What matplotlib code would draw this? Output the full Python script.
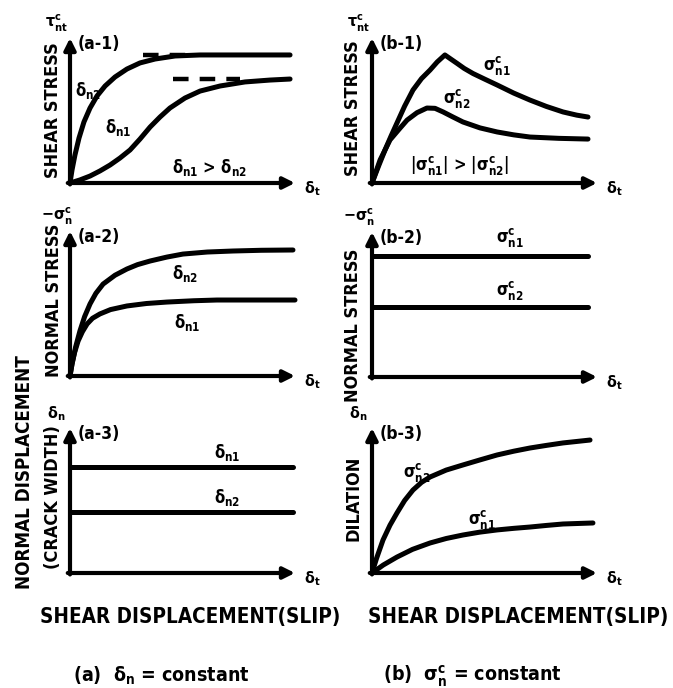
import matplotlib
matplotlib.use('Agg')
import matplotlib.pyplot as plt

W, H = 673, 688
INK = 'black'

plt.rcParams['font.family'] = ['DejaVu Sans']
plt.rcParams['font.weight'] = 'bold'
plt.rcParams['font.stretch'] = 'condensed'
plt.rcParams['mathtext.fontset'] = 'custom'
plt.rcParams['mathtext.rm'] = 'DejaVu Sans:weight=bold:stretch=condensed'
plt.rcParams['mathtext.it'] = 'DejaVu Sans:weight=bold:stretch=condensed'
plt.rcParams['mathtext.bf'] = 'DejaVu Sans:weight=bold:stretch=condensed'
plt.rcParams['mathtext.default'] = 'bf'

# ---- (a-1) shear stress vs slip, crack width held constant
a1_slip_dn2 = [0, 0.009, 0.022, 0.04, 0.062, 0.089, 0.12, 0.156, 0.2, 0.253,
               0.311, 0.378, 0.467, 0.578, 0.756, 0.978]
a1_tau_dn2 = [0, 0.09, 0.193, 0.31, 0.421, 0.517, 0.6, 0.669, 0.731, 0.786,
              0.828, 0.855, 0.876, 0.883, 0.883, 0.883]
a1_slip_dn1 = [0, 0.044, 0.089, 0.133, 0.178, 0.222, 0.267, 0.311, 0.356, 0.4,
               0.444, 0.511, 0.578, 0.667, 0.778, 0.889, 0.978]
a1_tau_dn1 = [0, 0.021, 0.048, 0.083, 0.124, 0.172, 0.228, 0.303, 0.386, 0.455,
              0.517, 0.586, 0.634, 0.669, 0.697, 0.710, 0.717]
a1_limit_dn2 = 0.883
a1_limit_dn1 = 0.717

# ---- (b-1) shear stress vs slip, normal stress held constant
b1_slip_s1 = [0, 0.03, 0.058, 0.085, 0.111, 0.145, 0.182, 0.22, 0.258, 0.29, 0.324,
              0.35, 0.378, 0.41, 0.449, 0.5, 0.556, 0.63, 0.702, 0.775, 0.849, 0.91, 0.96]
b1_tau_s1 = [0, 0.12, 0.228, 0.325, 0.414, 0.53, 0.641, 0.72, 0.779, 0.835, 0.883,
             0.855, 0.825, 0.79, 0.755, 0.717, 0.676, 0.62, 0.572, 0.528, 0.490, 0.468, 0.455]
b1_slip_s2 = [0, 0.036, 0.08, 0.12, 0.156, 0.2, 0.244, 0.28, 0.316, 0.36, 0.404,
              0.48, 0.556, 0.63, 0.702, 0.83, 0.96]
b1_tau_s2 = [0, 0.159, 0.297, 0.37, 0.434, 0.485, 0.517, 0.515, 0.490, 0.455, 0.421,
             0.38, 0.352, 0.332, 0.317, 0.308, 0.303]

# ---- (a-2) normal stress vs slip
a2_slip_dn2 = [0, 0.009, 0.025, 0.044, 0.065, 0.089, 0.115, 0.147, 0.2, 0.253,
               0.3, 0.356, 0.43, 0.502, 0.61, 0.724, 0.85, 0.991]
a2_sig_dn2 = [0, 0.083, 0.2, 0.31, 0.41, 0.497, 0.57, 0.634, 0.695, 0.738,
              0.768, 0.793, 0.82, 0.841, 0.855, 0.862, 0.867, 0.869]
a2_slip_dn1 = [0, 0.009, 0.02, 0.036, 0.055, 0.076, 0.1, 0.133, 0.18, 0.253,
               0.34, 0.431, 0.55, 0.653, 0.8, 1.0]
a2_sig_dn1 = [0, 0.083, 0.16, 0.241, 0.305, 0.359, 0.398, 0.428, 0.458, 0.483,
              0.5, 0.51, 0.519, 0.524, 0.524, 0.524]

# ---- (b-2) normal stress levels
b2_slip = [0, 0.96]
b2_sig_s1 = 0.834
b2_sig_s2 = 0.483

# ---- (a-3) crack width levels
a3_slip = [0, 0.99]
a3_dn1 = 0.731
a3_dn2 = 0.42

# ---- (b-3) dilation vs slip
b3_slip_s2 = [0, 0.02, 0.049, 0.08, 0.111, 0.145, 0.182, 0.22, 0.258, 0.33, 0.404,
              0.48, 0.556, 0.63, 0.702, 0.775, 0.849, 0.969]
b3_dil_s2 = [0, 0.1, 0.228, 0.33, 0.414, 0.5, 0.572, 0.625, 0.662, 0.71, 0.745,
             0.78, 0.814, 0.84, 0.862, 0.88, 0.897, 0.917]
b3_slip_s1 = [0, 0.05, 0.111, 0.18, 0.258, 0.33, 0.404, 0.48, 0.556, 0.63, 0.702,
              0.775, 0.849, 0.982]
b3_dil_s1 = [0, 0.055, 0.11, 0.163, 0.207, 0.238, 0.262, 0.282, 0.297, 0.308, 0.317,
             0.328, 0.338, 0.345]

fig = plt.figure(figsize=(W / 100, H / 100), dpi=100)
fig.patch.set_facecolor('white')

CURVE = dict(color=INK, lw=3.6, solid_capstyle='round', solid_joinstyle='round', clip_on=False)
LBL = dict(fontsize=12, ha='center', va='center')


def panel(left_px, origin_px, tag, ylab):
    ax = fig.add_axes([left_px / W, 1 - origin_px / H, 225 / W, 145 / H])
    ax.set_xlim(0, 1)
    ax.set_ylim(0, 1)
    ax.axis('off')
    arrow = dict(arrowstyle='-|>', lw=3, color=INK, mutation_scale=17,
                 shrinkA=0, shrinkB=0)
    ax.annotate('', xy=(1.0, 0), xytext=(-0.01, 0), arrowprops=arrow, annotation_clip=False)
    ax.annotate('', xy=(0, 1.0), xytext=(0, -0.01), arrowprops=arrow, annotation_clip=False)
    ax.text(1.04, -0.04, r'$δ_t$', fontsize=11.5, ha='left', va='center')
    ax.text(0.035, 0.96, tag, fontsize=12.5, ha='left', va='center')
    ax.text(-0.06, 1.1, ylab, fontsize=11.5, ha='center', va='center')
    return ax


# (a-1)
ax = panel(70, 183, '(a-1)', r'$τ_{nt}^{c}$')
ax.plot(a1_slip_dn2, a1_tau_dn2, **CURVE)
ax.plot(a1_slip_dn1, a1_tau_dn1, **CURVE)
ax.plot([0.324, 0.52], [a1_limit_dn2] * 2, color=INK, lw=3.2, ls=(0, (3.5, 2.5)))
ax.plot([0.458, 0.756], [a1_limit_dn1] * 2, color=INK, lw=3.2, ls=(0, (3.5, 2.5)))
ax.text(0.08, 0.64, r'$δ_{n2}$', **LBL)
ax.text(0.213, 0.38, r'$δ_{n1}$', **LBL)
ax.text(0.62, 0.11, r'$δ_{n1}$ > $δ_{n2}$', **LBL)

# (b-1)
ax = panel(372, 183, '(b-1)', r'$τ_{nt}^{c}$')
ax.plot(b1_slip_s1, b1_tau_s1, **CURVE)
ax.plot(b1_slip_s2, b1_tau_s2, **CURVE)
ax.text(0.555, 0.81, r'$σ_{n1}^{c}$', **LBL)
ax.text(0.378, 0.586, r'$σ_{n2}^{c}$', **LBL)
ax.text(0.39, 0.124, r'$|σ_{n1}^{c}|$ > $|σ_{n2}^{c}|$', **LBL)

# (a-2)
ax = panel(70, 376, '(a-2)', r'$-σ_{n}^{c}$')
ax.plot(a2_slip_dn2, a2_sig_dn2, **CURVE)
ax.plot(a2_slip_dn1, a2_sig_dn1, **CURVE)
ax.text(0.511, 0.71, r'$δ_{n2}$', **LBL)
ax.text(0.52, 0.366, r'$δ_{n1}$', **LBL)

# (b-2)
ax = panel(372, 377, '(b-2)', r'$-σ_{n}^{c}$')
ax.plot(b2_slip, [b2_sig_s1] * 2, **CURVE)
ax.plot(b2_slip, [b2_sig_s2] * 2, **CURVE)
ax.text(0.613, 0.96, r'$σ_{n1}^{c}$', **LBL)
ax.text(0.613, 0.6, r'$σ_{n2}^{c}$', **LBL)

# (a-3)
ax = panel(70, 573, '(a-3)', r'$δ_{n}$')
ax.plot(a3_slip, [a3_dn1] * 2, **CURVE)
ax.plot(a3_slip, [a3_dn2] * 2, **CURVE)
ax.text(0.70, 0.834, r'$δ_{n1}$', **LBL)
ax.text(0.70, 0.524, r'$δ_{n2}$', **LBL)

# (b-3)
ax = panel(372, 573, '(b-3)', r'$δ_{n}$')
ax.plot(b3_slip_s2, b3_dil_s2, **CURVE)
ax.plot(b3_slip_s1, b3_dil_s1, **CURVE)
ax.text(0.2, 0.69, r'$σ_{n2}^{c}$', **LBL)
ax.text(0.49, 0.366, r'$σ_{n1}^{c}$', **LBL)


def ftext(x, y, s, **kw):
    fig.text(x / W, 1 - y / H, s, ha='center', va='center', **kw)


# vertical axis titles
ftext(53, 110, 'SHEAR STRESS', rotation=90, fontsize=13)
ftext(353, 108, 'SHEAR STRESS', rotation=90, fontsize=13)
ftext(54, 300, 'NORMAL STRESS', rotation=90, fontsize=13)
ftext(353, 325, 'NORMAL STRESS', rotation=90, fontsize=13)
ftext(25, 472, 'NORMAL DISPLACEMENT', rotation=90, fontsize=13.5)
ftext(53, 497, '(CRACK WIDTH)', rotation=90, fontsize=13)
ftext(353, 498, 'DILATION', rotation=90, fontsize=13)

# shared slip titles and captions
ftext(190, 617, 'SHEAR DISPLACEMENT(SLIP)', fontsize=14.8)
ftext(518, 617, 'SHEAR DISPLACEMENT(SLIP)', fontsize=14.8)
ftext(161, 676, r'(a)  $δ_n$ = constant', fontsize=14)
ftext(472, 676, r'(b)  $σ_n^c$ = constant', fontsize=14)

fig.savefig('out.png', dpi=100, facecolor='white')
